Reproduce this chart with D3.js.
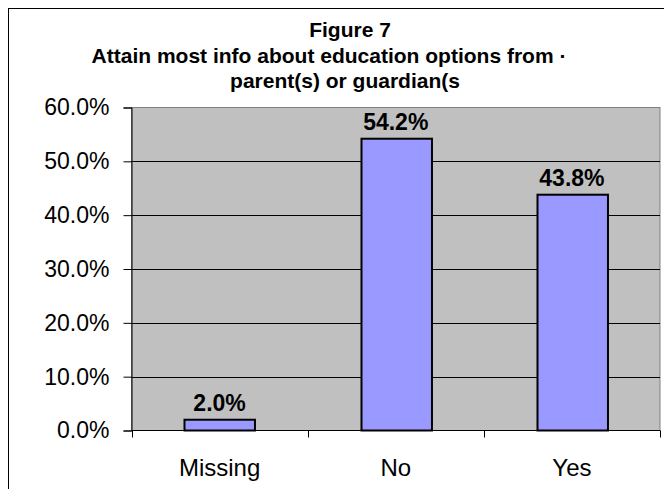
<!DOCTYPE html>
<html>
<head>
<meta charset="utf-8">
<script src="https://cdn.jsdelivr.net/npm/d3@7"></script>
<style>
  html, body { margin: 0; padding: 0; background: #ffffff; }
  svg { display: block; font-family: Arial, "Liberation Sans", sans-serif; }
</style>
</head>
<body>
<svg id="chart" width="664" height="489"></svg>
<script>
// Survey responses: share of respondents per answer
const categories = ["Missing", "No", "Yes"];
const shares = [2.0, 54.2, 43.8];
const yTicks = [0, 10, 20, 30, 40, 50, 60];
const titleLines = [
  "Figure 7",
  "Attain most info about education options from \u00b7",
  "parent(s) or guardian(s"
];

const svg = d3.select("#chart");

// Plot area bounds
const plot = { left: 131.5, right: 660, top: 107.5, bottom: 430.5 };

// Outer chart border (runs past the right and bottom edges)
svg.append("rect")
  .attr("x", 8.5).attr("y", 8.5)
  .attr("width", 682).attr("height", 520)
  .attr("fill", "#ffffff")
  .attr("stroke", "#000000").attr("stroke-width", 1);

// Title
const titleX = [350, 329, 345];
const titleY = [37, 63, 88];
svg.append("g").selectAll("text")
  .data(titleLines)
  .join("text")
  .attr("x", (d, i) => titleX[i])
  .attr("y", (d, i) => titleY[i])
  .attr("text-anchor", "middle")
  .attr("font-size", 21)
  .attr("font-weight", "bold")
  .attr("fill", "#000000")
  .text(d => d);

const x = d3.scaleBand()
  .domain(categories)
  .range([plot.left, plot.right])
  .paddingInner(0.6)
  .paddingOuter(0.3);

const y = d3.scaleLinear()
  .domain([0, 60])
  .range([plot.bottom, plot.top]);

// Plot background
svg.append("rect")
  .attr("x", plot.left).attr("y", plot.top)
  .attr("width", plot.right - plot.left)
  .attr("height", plot.bottom - plot.top)
  .attr("fill", "#c0c0c0")
  .attr("stroke", "#808080").attr("stroke-width", 1);

// Horizontal gridlines
svg.append("g").selectAll("line")
  .data(yTicks.filter(t => t > 0 && t < 60))
  .join("line")
  .attr("x1", plot.left).attr("x2", plot.right)
  .attr("y1", d => Math.round(y(d)) + 0.5)
  .attr("y2", d => Math.round(y(d)) + 0.5)
  .attr("stroke", "#000000").attr("stroke-width", 1);

const rows = categories.map((c, i) => ({ c, v: shares[i] }));

// Bars
svg.append("g").selectAll("rect")
  .data(rows)
  .join("rect")
  .attr("x", d => Math.round(x(d.c)) + 0.5)
  .attr("y", d => y(d.v))
  .attr("width", x.bandwidth())
  .attr("height", d => plot.bottom - y(d.v))
  .attr("fill", "#9999ff")
  .attr("stroke", "#000000").attr("stroke-width", 2);

// Value labels
svg.append("g").selectAll("text")
  .data(rows)
  .join("text")
  .attr("x", d => x(d.c) + x.bandwidth() / 2)
  .attr("y", d => y(d.v) - 9)
  .attr("text-anchor", "middle")
  .attr("font-size", 23)
  .attr("font-weight", "bold")
  .attr("fill", "#000000")
  .text(d => d.v.toFixed(1) + "%");

// Y axis
const yAxis = d3.axisLeft(y)
  .tickValues(yTicks)
  .tickSize(8)
  .tickPadding(14)
  .tickFormat(d => d.toFixed(1) + "%");
const yg = svg.append("g")
  .attr("transform", `translate(${plot.left},0)`)
  .call(yAxis);
yg.select(".domain").attr("stroke", "#000000");
yg.selectAll(".tick line").attr("stroke", "#000000");
yg.selectAll(".tick text")
  .attr("font-size", 23)
  .attr("font-family", "Arial, 'Liberation Sans', sans-serif")
  .attr("fill", "#000000");

// X axis: ticks sit between categories
const boundaries = d3.range(categories.length + 1)
  .map(i => plot.left + i * x.step());
const xg = svg.append("g");
xg.append("line")
  .attr("x1", plot.left).attr("x2", plot.right)
  .attr("y1", plot.bottom).attr("y2", plot.bottom)
  .attr("stroke", "#000000");
xg.selectAll("line.tk")
  .data(boundaries)
  .join("line")
  .attr("class", "tk")
  .attr("x1", d => Math.round(d) + 0.5).attr("x2", d => Math.round(d) + 0.5)
  .attr("y1", plot.bottom).attr("y2", plot.bottom + 7)
  .attr("stroke", "#000000");
xg.selectAll("text")
  .data(categories)
  .join("text")
  .attr("x", d => x(d) + x.bandwidth() / 2)
  .attr("y", 476)
  .attr("text-anchor", "middle")
  .attr("font-size", 24)
  .attr("fill", "#000000")
  .text(d => d);
</script>
</body>
</html>
